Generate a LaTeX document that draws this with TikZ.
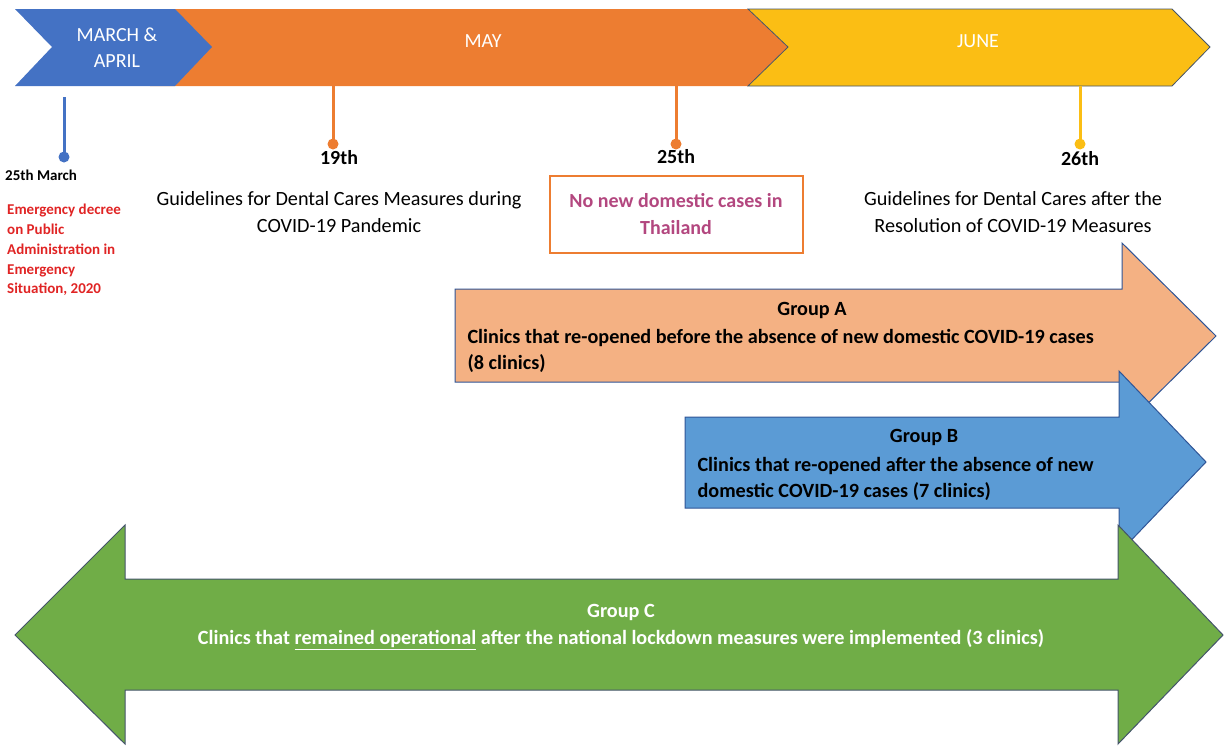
\documentclass[tikz,border=0pt]{standalone}
\usepackage{fontspec}
\setmainfont{Carlito}
\usepackage{xcolor}

\definecolor{marchblue}{HTML}{4472C4}
\definecolor{mayorange}{HTML}{ED7D31}
\definecolor{juneyellow}{HTML}{FBBE14}
\definecolor{groupa}{HTML}{F4B183}
\definecolor{groupb}{HTML}{5B9BD5}
\definecolor{groupc}{HTML}{70AD47}
\definecolor{slate}{HTML}{44546A}
\definecolor{navy}{HTML}{2F5597}
\definecolor{decreered}{HTML}{E02424}
\definecolor{casepink}{HTML}{B3477F}

\begin{document}
\begin{tikzpicture}[x=1pt, y=-1pt,
	month/.style={text=white, font=\fontsize{20}{26}\selectfont, align=center},
	stem/.style={line width=3pt},
	pin/.style={circle, inner sep=0pt, minimum size=11pt},
	day/.style={font=\fontsize{20}{22}\selectfont\bfseries},
	event/.style={font=\fontsize{20.2}{27}\selectfont, align=center},
	grouptext/.style={font=\fontsize{20.2}{26.5}\selectfont\bfseries, align=left},
	]
	\useasboundingbox (0,0) rectangle (1225,745);

	% months
	\fill[mayorange] (150,9) -- (748,9) -- (788,47) -- (748,86) -- (150,86) -- cycle;
	\filldraw[fill=juneyellow, draw=slate, line width=0.8pt] (748,9) -- (1172,9) -- (1210,47) -- (1172,86) -- (748,86) -- (788,47) -- cycle;
	\fill[marchblue] (15,9) -- (175,9) -- (212,47) -- (175,86) -- (15,86) -- (52,47) -- cycle;
	\node[month] (march) at (117,48) {MARCH \&\\APRIL};
	\node[month] (may) at (483,41) {MAY};
	\node[month] (june) at (978,41) {JUNE};

	% dates
	\coordinate (t25m) at (64,97);
	\coordinate (t19) at (333,86);
	\coordinate (t25) at (676,86);
	\coordinate (t26) at (1080,86);
	\node[pin, fill=marchblue] (p25m) at (64,157) {};
	\node[pin, fill=mayorange] (p19) at (333,144) {};
	\node[pin, fill=mayorange] (p25) at (676,144) {};
	\node[pin, fill=juneyellow] (p26) at (1080,144) {};
	\draw[stem, marchblue] (t25m) -- (p25m.center);
	\draw[stem, mayorange] (t19) -- (p19.center);
	\draw[stem, mayorange] (t25) -- (p25.center);
	\draw[stem, juneyellow] (t26) -- (p26.center);

	\node[font=\fontsize{15}{16}\selectfont\bfseries, anchor=west, inner sep=0pt] (d25m) at (5,175) {25th March};
	\node[day] (d19) at (339,158) {19th};
	\node[day] (d25) at (676,157) {25th};
	\node[day] (d26) at (1080,159) {26th};

	% events
	\node[anchor=north west, inner sep=0pt, text=decreered, font=\fontsize{15}{19.8}\selectfont\bfseries, align=left] (decree) at (7,204) {Emergency decree\\on Public\\Administration in\\Emergency\\Situation, 2020};
	\node[event] (g19) at (339,212) {Guidelines for Dental Cares Measures during\\COVID-19 Pandemic};
	\node[draw=mayorange, line width=2pt, minimum width=253pt, minimum height=77pt, text=casepink, font=\fontsize{20}{27}\selectfont\bfseries, align=center] (nocase) at (676,214.5) {No new domestic cases in\\Thailand};
	\node[event] (g26) at (1013,212) {Guidelines for Dental Cares after the\\Resolution of COVID-19 Measures};

	% groups
	\filldraw[fill=groupa, draw=navy, line width=1pt] (455,289) -- (1122,289) -- (1122,243) -- (1216,336) -- (1122,429) -- (1122,382) -- (455,382) -- cycle;
	\filldraw[fill=groupb, draw=navy, line width=1pt] (685,417) -- (1119,417) -- (1119,371) -- (1206,462) -- (1119,553) -- (1119,508) -- (685,508) -- cycle;
	\filldraw[fill=groupc, draw=slate, line width=1pt] (15,635) -- (125,525) -- (125,579) -- (1118,579) -- (1118,525) -- (1223,635) -- (1118,744) -- (1118,690) -- (125,690) -- (125,744) -- cycle;

	\node[grouptext] (ga) at (812,310) {Group A};
	\node[grouptext, anchor=west] (gatext) at (464,351) {Clinics that re-opened before the absence of new domestic COVID-19 cases\\(8 clinics)};
	\node[grouptext] (gb) at (924,437) {Group B};
	\node[grouptext, anchor=west] (gbtext) at (694,479) {Clinics that re-opened after the absence of new\\domestic COVID-19 cases (7 clinics)};
	\node[grouptext, text=white, align=center] (gc) at (621,627) {Group C\\Clinics that \underline{remained operational} after the national lockdown measures were implemented (3 clinics)};
\end{tikzpicture}
\end{document}
